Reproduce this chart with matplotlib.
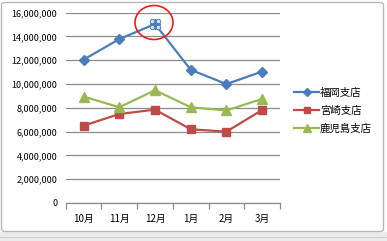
import matplotlib
matplotlib.use('Agg')
import matplotlib.pyplot as plt
from matplotlib.patches import Ellipse, Rectangle, FancyBboxPatch
from matplotlib.transforms import offset_copy
import numpy as np

plt.rcParams['font.family'] = ['Noto Sans CJK JP', 'DejaVu Sans']

months = ['10月', '11月', '12月', '1月', '2月', '3月']
fukuoka = [12050000, 13780000, 15050000, 11200000, 10000000, 11050000]
miyazaki = [6500000, 7480000, 7850000, 6200000, 6000000, 7820000]
kagoshima = [8950000, 8050000, 9480000, 8050000, 7780000, 8750000]
yticks = np.arange(0, 16000001, 2000000)

W, H = 387, 241
fig = plt.figure(figsize=(W / 100, H / 100), dpi=100)
fig.patch.set_facecolor('white')

# spreadsheet strip under the chart + chart frame
fig.patches.append(Rectangle((0, 0), 1, 9 / H, transform=fig.transFigure,
                             facecolor='#ececec', edgecolor='none', zorder=-2))
fig.patches.append(Rectangle((0, 3 / H), 1, 1 / H, transform=fig.transFigure,
                             facecolor='#d0d0d0', edgecolor='none', zorder=-2))
fig.patches.append(FancyBboxPatch((1.5 / W, 9.5 / H), 382 / W, 229 / H,
                                  boxstyle='round,pad=0,rounding_size=0.01',
                                  transform=fig.transFigure, facecolor='white',
                                  edgecolor='#b8b8b8', linewidth=1, zorder=-1))

ax = fig.add_axes([65.7 / W, 1 - 203 / H, (280 - 65.7) / W, (203 - 12.7) / H])
ax.set_facecolor('none')

x = np.arange(len(months))
ax.plot(x, fukuoka, color='#4a7ebb', lw=1.6, marker='D', ms=5, label='福岡支店', zorder=3)
ax.plot(x, miyazaki, color='#be4b48', lw=1.6, marker='s', ms=5.5, label='宮崎支店', zorder=3)
ax.plot(x, kagoshima, color='#98b954', lw=1.6, marker='^', ms=6.5, label='鹿児島支店', zorder=3)

# selection handles around the 12月 point
for dx, dy in [(-3, 3), (3, 3), (-3, -3), (3, -3)]:
    tr = offset_copy(ax.transData, fig=fig, x=dx, y=dy, units='dots')
    ax.plot(x[2], fukuoka[2], marker='o', ms=3.2, mfc='#dbe5f1', mec='#4a7ebb',
            mew=0.7, transform=tr, zorder=4)

ax.set_xlim(-0.5, len(months) - 0.5)
ax.set_ylim(0, 16000000)
ax.set_yticks(yticks)
ax.set_yticklabels([f'{v:,}' for v in yticks], fontsize=6.5)
ax.yaxis.grid(True, color='#8c8c8c', lw=0.9)
ax.set_axisbelow(True)
ax.tick_params(axis='y', length=0, pad=6)

ax.set_xticks(np.arange(-0.5, len(months), 1))
ax.set_xticklabels([])
ax.set_xticks(x, minor=True)
ax.set_xticklabels(months, minor=True, fontsize=7)
ax.tick_params(axis='x', which='major', length=4, color='#8c8c8c', width=0.9)
ax.tick_params(axis='x', which='minor', length=0, pad=8)

for s in ['left', 'right', 'top']:
    ax.spines[s].set_visible(False)
ax.spines['bottom'].set_color('#8c8c8c')
ax.spines['bottom'].set_linewidth(0.9)

fig.legend(loc='upper left', bbox_to_anchor=(294 / W, 1 - 88 / H), frameon=False,
           fontsize=7.5, handlelength=2.4, handletextpad=0.1, labelspacing=0.75,
           borderaxespad=0, borderpad=0, markerscale=0.8)

# red circle annotation
fig.patches.append(Ellipse((154 / W, 1 - 22.5 / H), 38 / W, 34 / H,
                           transform=fig.transFigure, fill=False,
                           edgecolor='#ee1c1c', linewidth=1.2, zorder=5))

fig.savefig('out.png', dpi=100)
